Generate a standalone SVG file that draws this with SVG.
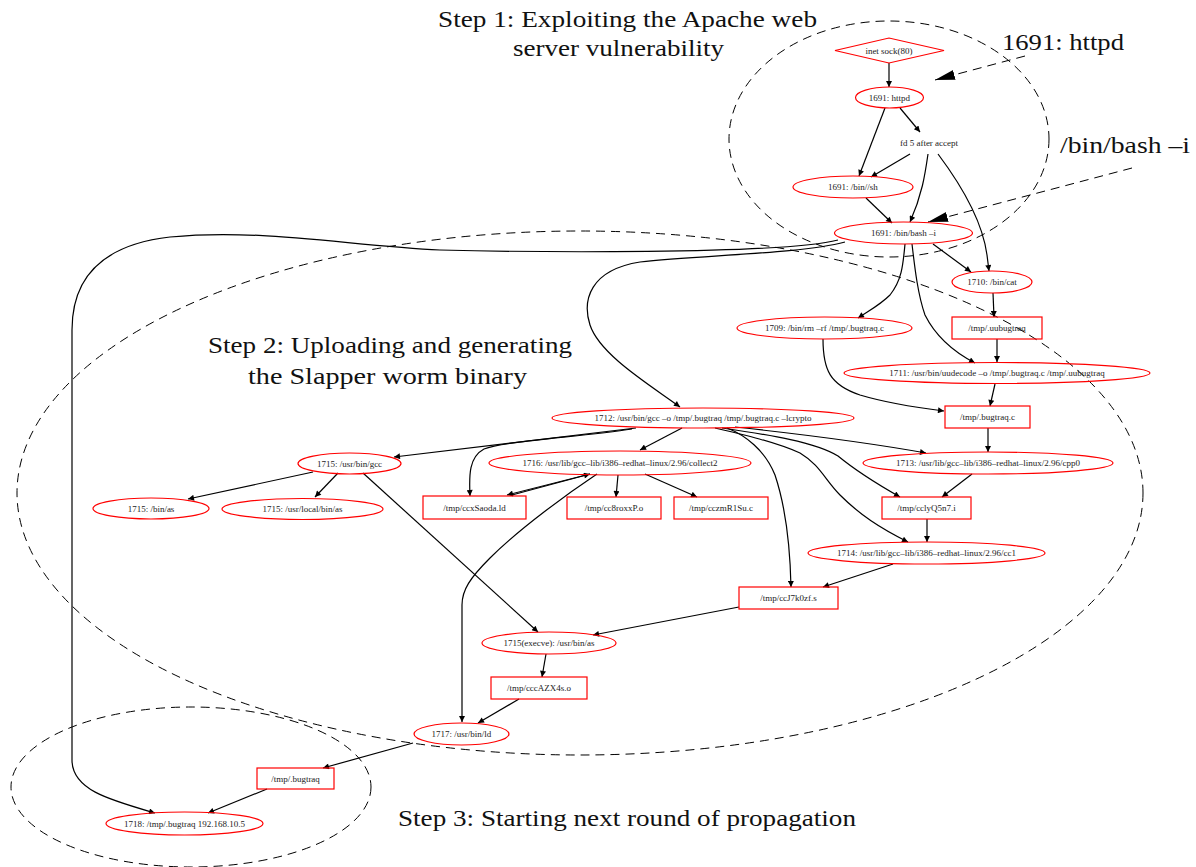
<svg xmlns="http://www.w3.org/2000/svg" width="1196" height="867" viewBox="0 0 1196 867">
<style>
.n{fill:none;stroke:#ff0000;stroke-width:1.2}
.t{font-family:"Liberation Serif","Times New Roman",serif;font-size:9px;fill:#222;text-anchor:middle}
.big{font-family:"Liberation Serif","Times New Roman",serif;font-size:24px;fill:#111;text-anchor:middle}
.e{fill:none;stroke:#000;stroke-width:1.2;marker-end:url(#ah)}
.d{fill:none;stroke:#000;stroke-width:1;stroke-dasharray:9 6}
</style>
<defs>
<marker id="ah" viewBox="0 0 10 10" refX="10" refY="5" markerWidth="9" markerHeight="6" markerUnits="userSpaceOnUse" orient="auto"><path d="M0,0 L10,5 L0,10 z" fill="#000"/></marker>
<marker id="bigah" viewBox="0 0 20 10" refX="20" refY="5" markerWidth="20" markerHeight="10" markerUnits="userSpaceOnUse" orient="auto"><path d="M0,0 L20,5 L0,10 z" fill="#000"/></marker>
</defs>

<g id="regions">
<ellipse class="d" cx="889" cy="139" rx="160" ry="118"/>
<ellipse class="d" cx="580" cy="493" rx="563" ry="262"/>
<ellipse class="d" cx="191" cy="787" rx="180" ry="80"/>
</g>

<g id="annotations">
<text class="big" x="627.5" y="27" textLength="379" lengthAdjust="spacingAndGlyphs">Step 1: Exploiting the Apache web</text>
<text class="big" x="618.5" y="56" textLength="211" lengthAdjust="spacingAndGlyphs">server vulnerability</text>
<text class="big" x="1063" y="50" textLength="122" lengthAdjust="spacingAndGlyphs">1691: httpd</text>
<text class="big" x="1125" y="153" textLength="130" lengthAdjust="spacingAndGlyphs">/bin/bash –i</text>
<text class="big" x="390" y="353" textLength="364" lengthAdjust="spacingAndGlyphs">Step 2: Uploading and generating</text>
<text class="big" x="387.5" y="384" textLength="279" lengthAdjust="spacingAndGlyphs">the Slapper worm binary</text>
<text class="big" x="627" y="826" textLength="458" lengthAdjust="spacingAndGlyphs">Step 3: Starting next round of propagation</text>
<path d="M1025,56 L935,80" fill="none" stroke="#000" stroke-width="1" stroke-dasharray="9 6" marker-end="url(#bigah)"/>
<path d="M1132,168 L928,222" fill="none" stroke="#000" stroke-width="1" stroke-dasharray="9 6" marker-end="url(#bigah)"/>
</g>

<g id="connectors">
<path class="e" d="M889,63 L889,87"/>
<path class="e" d="M885,108 L859,176"/>
<path class="e" d="M900,108 L920,132"/>
<path class="e" d="M910,154 L871,177"/>
<path class="e" d="M928,154 C925,175 922,195 910,222"/>
<path class="e" d="M938,154 C965,190 983,225 987,255 L989,271"/>
<path class="e" d="M866,198 L892,223"/>
<path class="e" d="M933,244 L971,272"/>
<path class="e" d="M905,244 C903,265 902,280 890,295 C880,305 870,310 858,318"/>
<path class="e" d="M912,244 C915,270 918,295 925,315 C935,335 950,350 975,363"/>
<path class="e" d="M993,293 L994,317"/>
<path class="e" d="M997,339 L997,362"/>
<path class="e" d="M823,339 C823,370 830,385 860,395 C890,404 920,408 944,411"/>
<path class="e" d="M995,384 L990,406"/>
<path class="e" d="M988,428 L988,452"/>
<path class="e" d="M845,242 C800,254 700,255 640,262 C590,270 582,300 590,325 C600,355 650,385 680,407"/>
<path class="e" d="M838,240 C780,255 520,252 440,250 C350,246 260,228 170,237 C100,245 72,280 72,330 L72,760 C72,790 110,800 155,813"/>
<path class="e" d="M636,428 L394,457"/>
<path class="e" d="M632,429 C580,437 505,441 484,449 C469,457 469,475 470,496"/>
<path class="e" d="M682,428 L640,450"/>
<path class="e" d="M590,474 L507,495"/>
<path class="e" d="M512,495 L590,474"/>
<path class="e" d="M597,474 C570,492 520,528 490,558 C470,578 462,590 462,605 L462,722"/>
<path class="e" d="M618,475 L616,497"/>
<path class="e" d="M645,474 L697,497"/>
<path class="e" d="M735,427 C800,434 870,443 926,453"/>
<path class="e" d="M722,428 C770,435 815,442 838,456 C855,470 870,480 900,497"/>
<path class="e" d="M715,428 C745,435 775,442 800,453 C820,465 825,480 840,495 C860,515 880,528 908,542"/>
<path class="e" d="M727,428 C745,435 765,450 775,475 C785,505 790,540 791,587"/>
<path class="e" d="M972,474 L942,497"/>
<path class="e" d="M927,519 L927,542"/>
<path class="e" d="M893,564 L823,587"/>
<path class="e" d="M313,472 L188,499"/>
<path class="e" d="M338,473 L315,497"/>
<path class="e" d="M363,473 L538,632"/>
<path class="e" d="M739,607 L593,635"/>
<path class="e" d="M546,654 L542,677"/>
<path class="e" d="M519,699 L478,723"/>
<path class="e" d="M413,743 L323,768"/>
<path class="e" d="M267,789 L208,813"/>
</g>

<g id="n_inet"><polygon class="n" points="835,50.5 889,38 944,50.5 889,63"/><text class="t" x="889" y="53.5">inet sock(80)</text></g>
<g id="n_httpd"><ellipse class="n" cx="889.5" cy="97.5" rx="34" ry="10.5"/><text class="t" x="889.5" y="100.5">1691: httpd</text></g>
<g id="n_fd5"><text class="t" x="929" y="146">fd 5 after accept</text></g>
<g id="n_sh"><ellipse class="n" cx="853" cy="187" rx="60" ry="11"/><text class="t" x="853" y="190">1691: /bin//sh</text></g>
<g id="n_bash"><ellipse class="n" cx="903.5" cy="233" rx="69" ry="11"/><text class="t" x="903.5" y="236">1691: /bin/bash –i</text></g>
<g id="n_cat"><ellipse class="n" cx="992" cy="282" rx="40" ry="11"/><text class="t" x="992" y="285">1710: /bin/cat</text></g>
<g id="n_rm"><ellipse class="n" cx="824.5" cy="328" rx="87.5" ry="11"/><text class="t" x="824.5" y="331">1709: /bin/rm –rf /tmp/.bugtraq.c</text></g>
<g id="n_uubugtraq"><rect class="n" x="952" y="317" width="90" height="22"/><text class="t" x="997" y="331">/tmp/.uubugtraq</text></g>
<g id="n_uudecode"><ellipse class="n" cx="997" cy="373" rx="153" ry="10.5"/><text class="t" x="997" y="376">1711: /usr/bin/uudecode –o /tmp/.bugtraq.c /tmp/.uubugtraq</text></g>
<g id="n_bugtraqc"><rect class="n" x="945" y="406" width="85" height="22"/><text class="t" x="987.5" y="420">/tmp/.bugtraq.c</text></g>
<g id="n_gcc1712"><ellipse class="n" cx="703" cy="418" rx="151" ry="10"/><text class="t" x="703" y="421">1712: /usr/bin/gcc –o /tmp/.bugtraq /tmp/.bugtraq.c –lcrypto</text></g>
<g id="n_cpp0"><ellipse class="n" cx="988" cy="463" rx="125" ry="11"/><text class="t" x="988" y="466">1713: /usr/lib/gcc–lib/i386–redhat–linux/2.96/cpp0</text></g>
<g id="n_collect2"><ellipse class="n" cx="620" cy="463" rx="131" ry="12"/><text class="t" x="620" y="466">1716: /usr/lib/gcc–lib/i386–redhat–linux/2.96/collect2</text></g>
<g id="n_gcc1715"><ellipse class="n" cx="349.5" cy="463.5" rx="51.5" ry="10.5"/><text class="t" x="349.5" y="466.5">1715: /usr/bin/gcc</text></g>
<g id="n_binas"><ellipse class="n" cx="151" cy="508.5" rx="58" ry="10.5"/><text class="t" x="151" y="511.5">1715: /bin/as</text></g>
<g id="n_localas"><ellipse class="n" cx="302.5" cy="509" rx="80.5" ry="10.5"/><text class="t" x="302.5" y="512">1715: /usr/local/bin/as</text></g>
<g id="n_ccxSaoda"><rect class="n" x="423" y="496" width="103" height="23"/><text class="t" x="474.5" y="510.5">/tmp/ccxSaoda.ld</text></g>
<g id="n_cc8roxxP"><rect class="n" x="567" y="497" width="94" height="22"/><text class="t" x="614" y="511">/tmp/cc8roxxP.o</text></g>
<g id="n_cczmR1Su"><rect class="n" x="674" y="497" width="94" height="22"/><text class="t" x="721" y="511">/tmp/cczmR1Su.c</text></g>
<g id="n_cclyQ5n7"><rect class="n" x="882" y="497" width="89" height="22"/><text class="t" x="926.5" y="511">/tmp/cclyQ5n7.i</text></g>
<g id="n_cc1"><ellipse class="n" cx="926.5" cy="553" rx="118.5" ry="11"/><text class="t" x="926.5" y="556">1714: /usr/lib/gcc–lib/i386–redhat–linux/2.96/cc1</text></g>
<g id="n_ccJ7k0zf"><rect class="n" x="739" y="587" width="99" height="22"/><text class="t" x="788.5" y="601">/tmp/ccJ7k0zf.s</text></g>
<g id="n_execve"><ellipse class="n" cx="549" cy="643" rx="67" ry="11"/><text class="t" x="549" y="646">1715(execve): /usr/bin/as</text></g>
<g id="n_cccAZX4s"><rect class="n" x="491" y="677" width="96" height="22"/><text class="t" x="539" y="691">/tmp/cccAZX4s.o</text></g>
<g id="n_ld"><ellipse class="n" cx="461.5" cy="734" rx="47.5" ry="11"/><text class="t" x="461.5" y="737">1717: /usr/bin/ld</text></g>
<g id="n_bugtraq"><rect class="n" x="257" y="768" width="77" height="21"/><text class="t" x="295.5" y="781.5">/tmp/.bugtraq</text></g>
<g id="n_1718"><ellipse class="n" cx="184.5" cy="823.5" rx="78.5" ry="11.5"/><text class="t" x="184.5" y="826.5">1718: /tmp/.bugtraq 192.168.10.5</text></g>
</svg>
